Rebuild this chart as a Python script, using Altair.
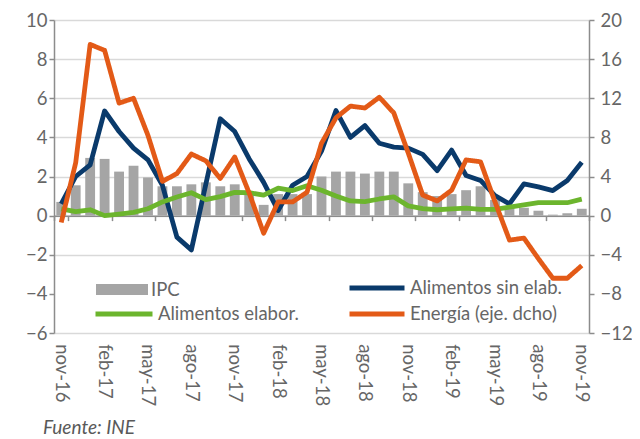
import altair as alt
import pandas as pd

months = ["nov-16", "dic-16", "ene-17", "feb-17", "mar-17", "abr-17", "may-17", "jun-17", "jul-17",
          "ago-17", "sep-17", "oct-17", "nov-17", "dic-17", "ene-18", "feb-18", "mar-18", "abr-18",
          "may-18", "jun-18", "jul-18", "ago-18", "sep-18", "oct-18", "nov-18", "dic-18", "ene-19",
          "feb-19", "mar-19", "abr-19", "may-19", "jun-19", "jul-19", "ago-19", "sep-19", "oct-19", "nov-19"]

ipc = [0.7, 1.55, 2.95, 2.9, 2.25, 2.55, 1.95, 1.5, 1.5, 1.6, 1.7, 1.5, 1.6, 1.1, 0.55, 1.1, 1.1, 1.1,
       2.0, 2.25, 2.25, 2.15, 2.25, 2.25, 1.65, 1.2, 1.0, 1.1, 1.3, 1.5, 0.8, 0.4, 0.4, 0.25, 0.05, 0.12, 0.35]

sin_elab = [0.6, 2.0, 2.6, 5.35, 4.3, 3.45, 2.85, 1.55, -1.1, -1.75, 1.6, 4.95, 4.3, 2.9, 1.7, 0.26, 1.55, 2.0,
            3.3, 5.37, 4.0, 4.6, 3.7, 3.5, 3.45, 3.13, 2.3, 3.35, 2.05, 1.8, 1.02, 0.6, 1.62, 1.47, 1.28, 1.8, 2.73]

elabor = [0.34, 0.2, 0.3, 0.0, 0.08, 0.17, 0.35, 0.7, 0.95, 1.17, 0.82, 0.97, 1.19, 1.17, 1.05, 1.4, 1.28, 1.53,
          1.3, 1.0, 0.75, 0.72, 0.85, 0.96, 0.5, 0.36, 0.3, 0.34, 0.38, 0.32, 0.32, 0.43, 0.55, 0.66, 0.66, 0.66, 0.84]

energia = [-0.7, 5.4, 17.5, 16.9, 11.5, 12.0, 8.2, 3.5, 4.3, 6.3, 5.6, 3.8, 6.0, 2.3, -1.8, 1.4, 1.4, 2.4,
           7.4, 10.0, 11.2, 11.0, 12.1, 10.5, 6.4, 2.1, 1.5, 2.6, 5.7, 5.5, 1.4, -2.5, -2.3, -4.4, -6.4, -6.4, -5.1]

series_names = ["IPC", "Alimentos sin elab.", "Alimentos elabor.", "Energía (eje. dcho)"]
left_ticks = [-6, -4, -2, 0, 2, 4, 6, 8, 10]
right_ticks = [-12, -8, -4, 0, 4, 8, 12, 16, 20]
x_labels = months[::3]

rows = []
for name, vals in zip(series_names, [ipc, sin_elab, elabor, energia]):
    for m, v in zip(months, vals):
        rows.append({"mes": m, "serie": name, "valor": v})
df = pd.DataFrame(rows)

W, H = 535, 313
FONT = "Lato"
TXT = "#666666"
AX = "#8c8c8c"
GRID = "#d9d9d9"
NAVY = "#0a3a6b"
GREEN = "#6cb52d"
ORANGE = "#e35a17"
BAR = "#a5a5a5"
LW = 4.8

lmin, lmax = left_ticks[0], left_ticks[-1]
zero_px = H * (lmax - 0) / (lmax - lmin)

x_enc = alt.X(
    "mes:N", sort=months,
    scale=alt.Scale(domain=months, paddingInner=0, paddingOuter=0),
    axis=alt.Axis(values=x_labels, labelAngle=90, title=None, offset=zero_px - H,
                  domainColor=AX, domainWidth=1.5, tickColor=AX, tickWidth=1.5, tickSize=5,
                  tickBand="extent", labelPadding=123, grid=False,
                  labelFont=FONT, labelFontSize=18.5, labelColor=TXT),
)

y_left = alt.Scale(domain=[lmin, lmax], nice=False, zero=False)
y_right = alt.Scale(domain=[right_ticks[0], right_ticks[-1]], nice=False, zero=False)

left_axis = alt.Axis(values=left_ticks, title=None, tickSize=5, tickColor=AX, tickWidth=1.5,
                     domainColor=AX, domainWidth=1.5, gridColor=GRID, gridWidth=1.5,
                     gridOpacity={"condition": {"test": "datum.value === -4", "value": 0}, "value": 1},
                     labelPadding=2, labelFont=FONT, labelFontSize=18.5, labelColor=TXT)
right_axis = alt.Axis(values=right_ticks, title=None, orient="right", tickSize=5, tickColor=AX,
                      tickWidth=1.5, domainColor=AX, domainWidth=1.5, grid=False,
                      labelPadding=6, labelFont=FONT, labelFontSize=18.5, labelColor=TXT)


def leg(x, y, size, **kw):
    return alt.Legend(title=None, orient="none", legendX=x, legendY=y, symbolSize=size,
                      clipHeight=16, labelOffset=3, labelFont=FONT, labelFontSize=18.5,
                      labelColor=TXT, padding=0, labelLimit=300, **kw)


base = alt.Chart(df)

bars = base.transform_filter(alt.datum.serie == "IPC").mark_bar(
    width={"band": 0.68}
).encode(
    x=x_enc,
    y=alt.Y("valor:Q", scale=y_left, axis=left_axis),
    fill=alt.Fill("serie:N", scale=alt.Scale(domain=["IPC"], range=[BAR]),
                  legend=leg(42, 289.5 - 20 - 8, 2704,
                             symbolType="M-1,-0.21H1V0.21H-1Z", symbolStrokeWidth=0)),
)

navy = base.transform_filter(alt.datum.serie == "Alimentos sin elab.").mark_line(
    strokeWidth=LW, strokeJoin="round"
).encode(
    x=x_enc,
    y=alt.Y("valor:Q", scale=y_left, axis=left_axis),
    stroke=alt.Stroke("serie:N", scale=alt.Scale(domain=["Alimentos sin elab."], range=[NAVY]),
                      legend=leg(293, 288 - 20 - 8, 3025, symbolType="stroke", symbolStrokeWidth=5)),
)

green = base.transform_filter(alt.datum.serie == "Alimentos elabor.").mark_line(
    strokeWidth=LW, strokeJoin="round"
).encode(
    x=x_enc,
    y=alt.Y("valor:Q", scale=y_left, axis=left_axis),
    color=alt.Color("serie:N", scale=alt.Scale(domain=["Alimentos elabor."], range=[GREEN]),
                    legend=leg(39, 314 - 20 - 8, 3249, symbolType="stroke", symbolStrokeWidth=5)),
)

left_layer = alt.layer(bars, navy, green)

orange = base.transform_filter(alt.datum.serie == "Energía (eje. dcho)").mark_line(
    strokeWidth=LW, strokeJoin="round", color=ORANGE
).encode(
    x=x_enc,
    y=alt.Y("valor:Q", scale=y_right, axis=right_axis),
    strokeDash=alt.StrokeDash("serie:N",
                              scale=alt.Scale(domain=["Energía (eje. dcho)"], range=[[1, 0]]),
                              legend=leg(293, 314 - 20 - 8, 3025, symbolType="stroke",
                                         symbolStrokeWidth=5, symbolStrokeColor=ORANGE)),
)

chart = alt.layer(left_layer, orange).resolve_scale(
    y="independent", fill="independent", stroke="independent", color="independent",
    strokeDash="independent"
).properties(
    width=W, height=H,
    autosize=alt.AutoSizeParams(type="none"),
    padding={"left": 46, "top": 12, "right": 43, "bottom": 106},
    title=alt.TitleParams("Fuente: INE", orient="bottom", anchor="start", dx=-11, offset=13,
                          font=FONT, fontSize=19, fontStyle="italic", fontWeight="normal",
                          color="#595959", frame="group"),
).configure_view(stroke=None)

chart.save("out.html", embed_options={"renderer": "svg", "actions": False})
